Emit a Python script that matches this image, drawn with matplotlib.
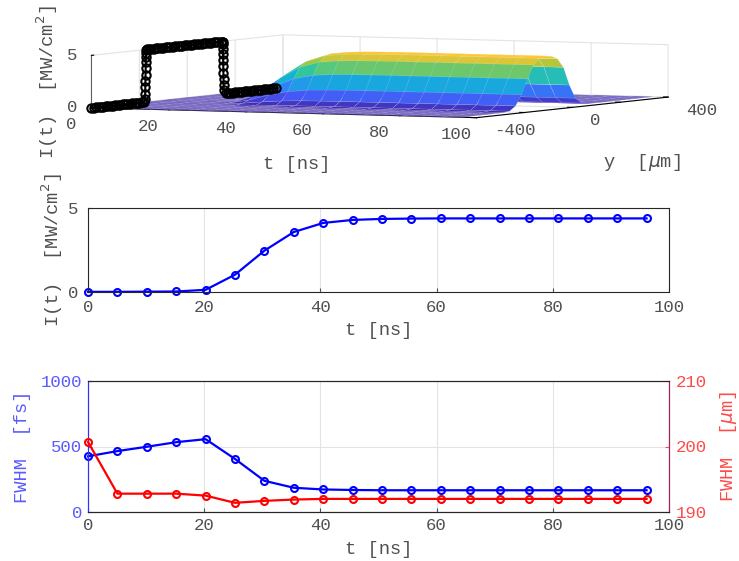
import numpy as np
import matplotlib
matplotlib.use('Agg')
import matplotlib.pyplot as plt
from matplotlib.colors import LinearSegmentedColormap
from matplotlib.ticker import NullFormatter
from mpl_toolkits.mplot3d import proj3d

# ---------------- data ----------------
t_ns = [0.0, 5.06, 10.12, 15.18, 20.24, 25.30, 30.36, 35.42, 40.48, 45.54,
        50.60, 55.66, 60.72, 65.78, 70.84, 75.90, 80.96, 86.02, 91.08, 96.14]
I_center = [0.01, 0.01, 0.02, 0.03, 0.13, 1.03, 2.46, 3.57, 4.11, 4.29,
            4.35, 4.37, 4.38, 4.38, 4.38, 4.38, 4.38, 4.38, 4.38, 4.38]
fwhm_fs = [425, 465, 498, 533, 556, 405, 238, 185, 172, 168,
           166, 166, 166, 166, 166, 166, 166, 166, 166, 166]
fwhm_um = [200.7, 192.8, 192.8, 192.8, 192.5, 191.4, 191.7, 191.9, 192.0, 192.0,
           192.0, 192.0, 192.0, 192.0, 192.0, 192.0, 192.0, 192.0, 192.0, 192.0]

# surface: transverse profile (relative) on the y grid
y_um = [-400, -375, -350, -325, -300, -275, -250, -225, -200, -175, -150,
        -125, -100, -75, -50, -25, 0, 25, 50, 75, 100, 125, 150, 175, 200,
        225, 250, 275, 300, 325, 350, 375, 400]
profile = [0.0, 0.0, 0.0, 0.0, 0.0, 0.0, 0.0, 0.005, 0.02, 0.12, 0.35,
           0.68, 0.97, 1.10, 1.14, 1.12, 1.05, 0.85, 0.45, 0.15, 0.03, 0.0,
           0.0, 0.0, 0.0, 0.0, 0.0, 0.0, 0.0, 0.0, 0.0, 0.0, 0.0]

# black input pulse drawn on the t = 0 wall
y_pulse = [-400, -390, -380, -370, -360, -350, -340, -330, -320, -310, -300,
           -290, -280, -270, -260, -250, -240, -230, -220, -210, -200, -190,
           -180, -176, -175.5, -175, -174.5, -174, -173.5, -173, -172.5, -172,
           -171, -168, -160, -150, -140, -130, -120, -110, -100, -90, -80, -70,
           -60, -50, -40, -30, -20, -10, 0, 10, 20, 30, 40, 50, 60, 70, 80, 90,
           100, 110, 120, 130, 140, 146, 148, 148.5, 149, 149.5, 150, 150.5,
           151, 151.5, 152, 153, 160, 170, 180, 190, 200, 210, 220, 230, 240,
           250, 260, 270, 280, 290, 300, 310, 320, 330, 340, 350, 360, 370]
I_pulse = [0, 0, 0, 0, 0, 0, 0, 0, 0, 0, 0,
           0, 0, 0, 0, 0, 0, 0, 0, 0, 0, 0,
           0.05, 0.3, 0.8, 1.4, 2.0, 2.6, 3.2, 3.8, 4.3, 4.7,
           4.92, 5.0, 5.0, 5.0, 5.0, 5.0, 5.0, 5.0, 5.0, 5.0, 5.0, 5.0,
           5.0, 5.0, 5.0, 5.0, 5.0, 5.0, 5.0, 5.0, 5.0, 5.0, 5.0, 5.0, 5.0, 5.0, 5.0, 5.0,
           5.0, 5.0, 5.0, 5.0, 5.0, 4.98, 4.92, 4.7, 4.3, 3.8, 3.2, 2.6,
           2.0, 1.4, 0.8, 0.3, 0.05, 0, 0, 0, 0, 0, 0, 0, 0,
           0, 0, 0, 0, 0, 0, 0, 0, 0, 0, 0, 0, 0]

t_ticks = [0, 20, 40, 60, 80, 100]
y_grid_ticks = [-400, -200, 0, 200, 400]
y_ticks = [-400, 0, 400]
z_ticks = [0, 5]
I_ticks = [0, 5]
fs_ticks = [0, 500, 1000]
um_ticks = [190, 200, 210]

# ---------------- style ----------------
plt.rcParams['font.family'] = ['Liberation Mono', 'DejaVu Sans Mono', 'DejaVu Sans']
plt.rcParams['mathtext.fontset'] = 'dejavusans'
TXT = '#505050'
GRID = '#e3e3e3'
FS_TICK = 12.5
FS_LAB = 13.5
DPI = 100

parula = LinearSegmentedColormap.from_list('parula', [
    (0.2422, 0.1504, 0.6603), (0.2810, 0.3228, 0.9579), (0.1786, 0.5289, 0.9682),
    (0.0689, 0.6948, 0.8394), (0.2161, 0.7843, 0.5923), (0.6720, 0.7793, 0.2227),
    (0.9970, 0.7659, 0.2199), (0.9769, 0.9839, 0.0805)])

fig = plt.figure(figsize=(7.39, 5.61), dpi=DPI)
W, H = 739.0, 561.0

# ---------------- top: 3D surface ----------------
S = 500.0                      # square size of the 3D axes in pixels
cx, cy = 373.0, 83.0           # projected box centre in pixels
ax3 = fig.add_axes([(cx - S / 2) / W, 1 - (cy + S / 2) / H, S / W, S / H],
                   projection='3d')
ax3.patch.set_visible(False)
ax3.set_proj_type('ortho')
ax3.view_init(elev=3, azim=-64)
asp = np.array([1.95, 1.99, 0.239])
ax3.set_box_aspect(asp, zoom=np.linalg.norm(asp) / 1.906 / 1.23)
T, Y = np.meshgrid(np.array(t_ns), np.array(y_um), indexing='ij')
Z = np.outer(np.array(I_center), np.array(profile))
ax3.computed_zorder = False
surf = ax3.plot_surface(T, Y, Z, cmap=parula, vmin=0, vmax=Z.max() / 0.88,
                        rstride=1, cstride=1,
                        edgecolor=(1, 1, 1, 0.25), linewidth=0.3, antialiased=True,
                        shade=False, zorder=1)
surf.set_clip_on(False)
ln, = ax3.plot(np.zeros(len(y_pulse)), y_pulse, I_pulse, 'o-', color='k',
               markerfacecolor='none', markersize=6, markeredgewidth=1.5, lw=1.5,
               zorder=3)
ln.set_clip_on(False)
ax3.set_xlim(0, 100)
ax3.set_ylim(-400, 400)
ax3.set_zlim(0, 5)
ax3.set_xticks(t_ticks)
ax3.set_yticks(y_grid_ticks)
ax3.set_zticks(z_ticks)
ax3.zaxis.set_ticks_position('lower')
for axis in (ax3.xaxis, ax3.yaxis, ax3.zaxis):
    axis.set_major_formatter(NullFormatter())
    axis.set_tick_params(labelbottom=False)
    axis.set_pane_color((1, 1, 1, 0))
    axis._axinfo['grid'].update(color=GRID, linewidth=0.8)
    axis._axinfo['tick'].update(inward_factor=0.0, outward_factor=0.15)
    axis.line.set_color('k')
    axis.line.set_linewidth(0.8)
ax3.zaxis.line.set_color('#606060')

# ---------------- middle: I(t) ----------------
axm = fig.add_axes([88 / W, 1 - 292 / H, 581 / W, 84 / H])
axm.plot(t_ns, I_center, '-o', color='#0000ff', lw=1.6, markersize=5,
         markerfacecolor='none', markeredgewidth=1.5, clip_on=False)
axm.set_xlim(0, 100)
axm.set_ylim(0, 5)
axm.set_xticks(t_ticks)
axm.set_yticks(I_ticks)
axm.grid(True, color=GRID, lw=0.8)
axm.set_axisbelow(True)
axm.tick_params(direction='in', length=3, labelsize=FS_TICK, colors=TXT)
axm.tick_params(axis='x', pad=6)
axm.tick_params(axis='y', pad=7)
for s in axm.spines.values():
    s.set_color('#262626'); s.set_linewidth(0.8)
axm.set_xlabel('t [ns]', fontsize=FS_LAB, color=TXT, labelpad=5)
axm.set_ylabel('I(t)  [MW/cm$^2$]', fontsize=FS_LAB, color=TXT, labelpad=2)

# ---------------- bottom: FWHM ----------------
axb = fig.add_axes([88 / W, 1 - 512 / H, 581 / W, 131 / H])
axb.plot(t_ns, fwhm_fs, '-o', color='#0000ff', lw=1.6, markersize=5,
         markerfacecolor='none', markeredgewidth=1.5, clip_on=False, zorder=3)
axb.set_xlim(0, 100)
axb.set_ylim(0, 1000)
axb.set_xticks(t_ticks)
axb.set_yticks(fs_ticks)
axb.grid(True, color=GRID, lw=0.8)
axb.set_axisbelow(True)
axb.tick_params(direction='in', length=3, labelsize=FS_TICK, colors=TXT)
axb.tick_params(axis='x', pad=4)
axb.tick_params(axis='y', colors='#5a5aff', pad=4)
axb.set_xlabel('t [ns]', fontsize=FS_LAB, color=TXT, labelpad=6)
axb.set_ylabel('FWHM  [fs]', fontsize=FS_LAB, color='#5a5aff', labelpad=7)

axr = axb.twinx()
axr.plot(t_ns, fwhm_um, '-o', color='#ff0000', lw=1.6, markersize=5,
         markerfacecolor='none', markeredgewidth=1.5, clip_on=False, zorder=3)
axr.set_ylim(190, 210)
axr.set_yticks(um_ticks)
axr.tick_params(direction='in', length=3, labelsize=FS_TICK, colors='#ff4a4a', pad=5)
axr.set_ylabel('FWHM  [$\\mu$m]', fontsize=FS_LAB, color='#ff4a4a', labelpad=8)
for a in (axb, axr):
    a.spines['top'].set_color('#262626')
    a.spines['bottom'].set_color('#262626')
    a.spines['left'].set_color('#3030ff')
    a.spines['right'].set_color('#a0205a')
    for s in a.spines.values():
        s.set_linewidth(0.8)

# ---------------- 3D tick labels / axis labels as 2D figure texts ----------------
fig.canvas.draw()
M = ax3.M


def px(x, y, z):
    xs, ys, _ = proj3d.proj_transform(np.array([x]), np.array([y]), np.array([z]), M)
    return ax3.transData.transform((xs[0], ys[0]))


def label3d(x, y, z, s, dx, dy, **kw):
    X, Yp = px(x, y, z)
    fig.text((X + dx) / W, (Yp - dy) / H, s, **kw)


for tv in t_ticks:
    label3d(tv, -400, 0, str(tv), -20, 17, ha='center', va='center',
            fontsize=FS_TICK, color=TXT)
for yv in y_ticks:
    label3d(100, yv, 0, str(yv), 18, 13, ha='left', va='center',
            fontsize=FS_TICK, color=TXT)
for zv in z_ticks:
    label3d(0, -400, zv, str(zv), -14, 0, ha='right', va='center',
            fontsize=FS_TICK, color=TXT)
label3d(50, -400, 0, 't [ns]', 13, 52, ha='center', va='center',
        fontsize=FS_LAB, color=TXT)
label3d(100, 0, 0, 'y  [$\\mu$m]', 70, 55, ha='center', va='center',
        fontsize=FS_LAB, color=TXT)
label3d(0, -400, 2.5, 'I(t)  [MW/cm$^2$]', -44, 1, ha='center', va='center',
        rotation=90, fontsize=FS_LAB, color=TXT)

fig.savefig('out.png', dpi=DPI)
